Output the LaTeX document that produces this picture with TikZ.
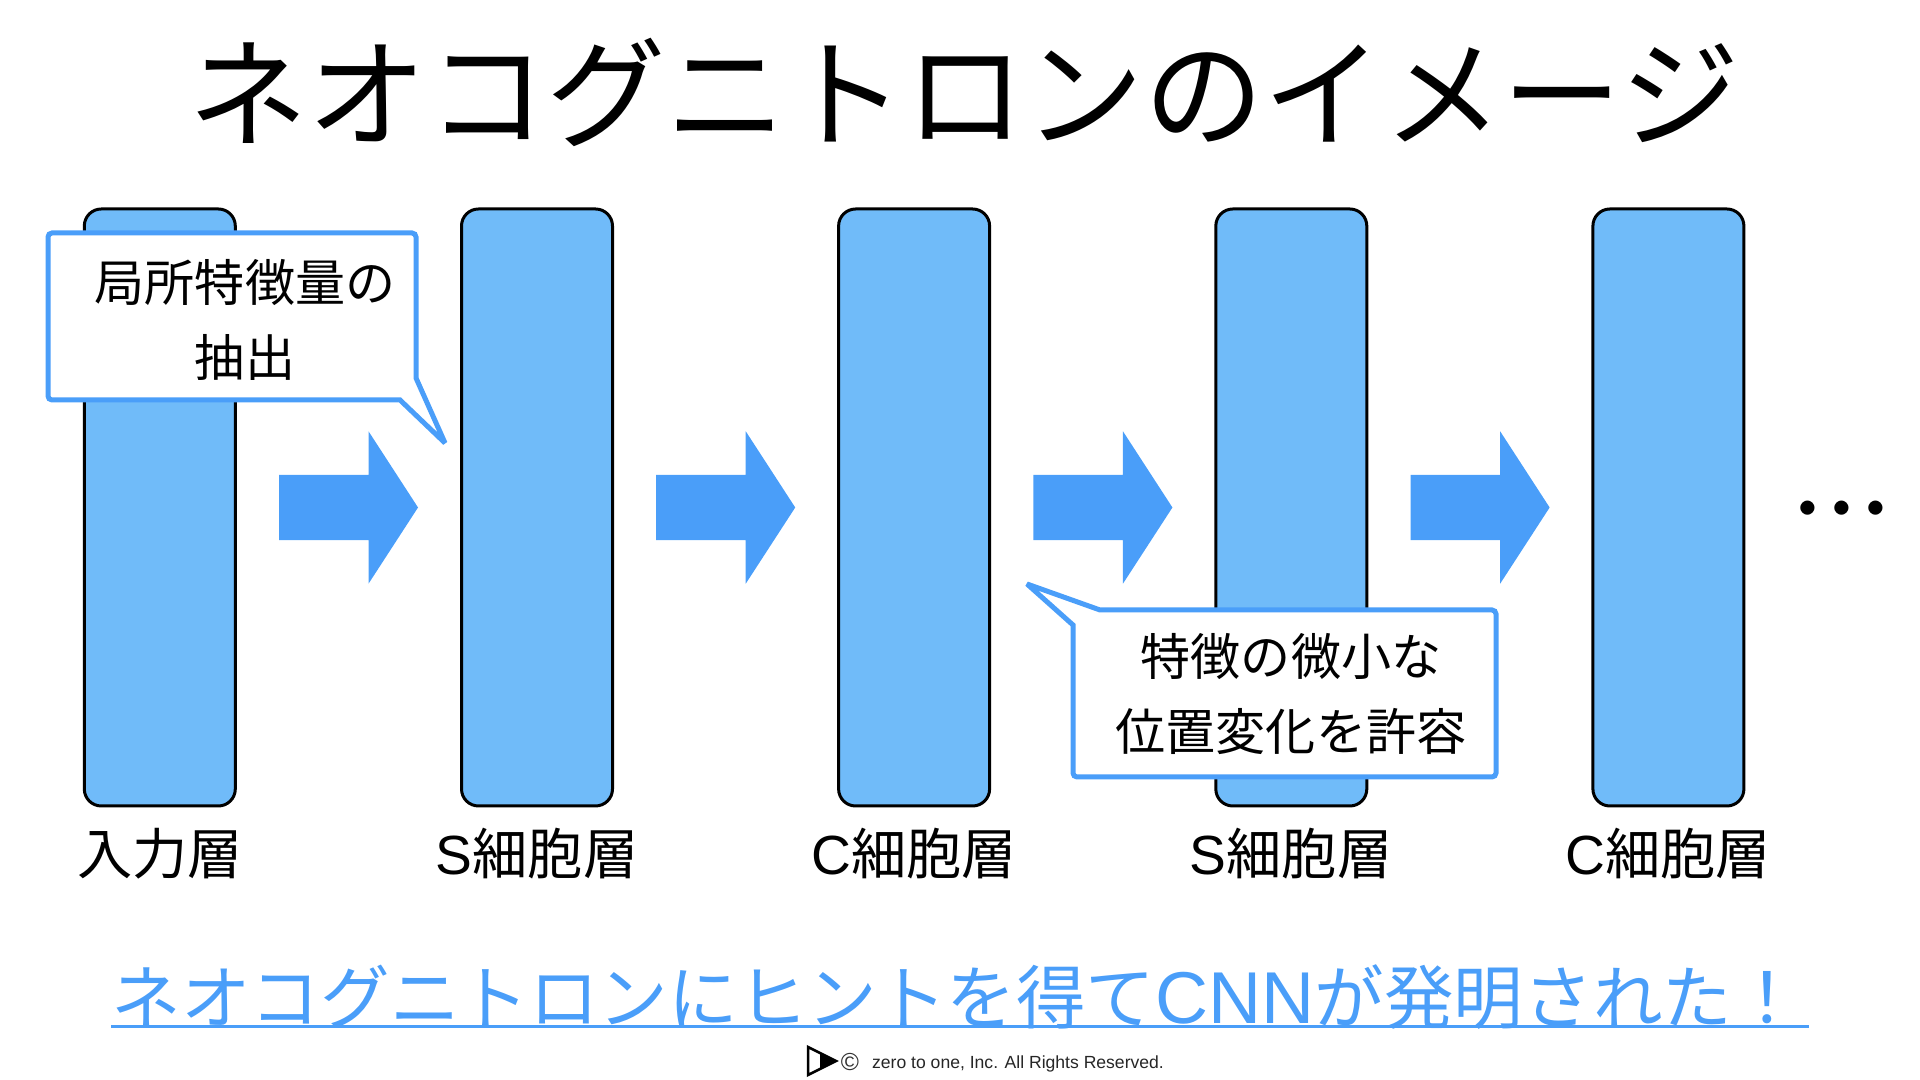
\documentclass[tikz,border=0pt]{standalone}
\usepackage{fontspec}
\setmainfont{Noto Sans CJK JP}
\newfontfamily\latinfont{Liberation Sans}
\usetikzlibrary{shapes.arrows}
\definecolor{barfill}{RGB}{112,187,249}
\definecolor{accentblue}{RGB}{74,158,249}

\begin{document}
\begin{tikzpicture}[every node/.style={align=center,inner sep=0pt},
    layerbar/.style={draw=black,line width=0.03cm,rounded corners=0.17cm,fill=barfill,minimum width=1.51cm,minimum height=5.97cm},
    blockarrow/.style={single arrow,fill=accentblue,inner xsep=0pt,inner ysep=0.32cm,minimum width=1.51cm,minimum height=1.39cm,single arrow head extend=0.435cm,single arrow tip angle=114},
    layerlabel/.style={font=\fontsize{15.7}{18}\selectfont},
    bubble/.style={draw=accentblue,line width=0.05cm,fill=white,line join=miter,miter limit=2},
    bubbletext/.style={font=\fontsize{14.25}{21.3}\selectfont}]
  \useasboundingbox (0,0) rectangle (19.2,10.8);
  \node[font=\fontsize{34}{36}\selectfont] (title) at (9.64,9.88) {ネオコグニトロンのイメージ};
  % layers and block arrows
  \foreach \i/\x in {1/1.598,2/5.37,3/9.141,4/12.913,5/16.684}
    \node[layerbar] (bar\i) at (\x,5.725) {};
  \foreach \i/\x in {1/3.379,2/7.151,3/10.923,4/14.695}
    \node[blockarrow] (arrow\i) at (\x,5.725) {};
  \node[layerlabel] (label1) at (1.6,2.26) {入力層};
  \node[layerlabel] (label2) at (5.37,2.26) {{\latinfont S}細胞層};
  \node[layerlabel] (label3) at (9.14,2.26) {{\latinfont C}細胞層};
  \node[layerlabel] (label4) at (12.91,2.26) {{\latinfont S}細胞層};
  \node[layerlabel] (label5) at (16.68,2.26) {{\latinfont C}細胞層};
  \node[font=\fontsize{19}{22}\selectfont] (more) at (18.42,5.63) {・\kern-0.33cm・\kern-0.33cm・};
  % speech bubbles
  \draw[bubble] (4.16,7.02) -- (4.45,6.37) -- (4.0,6.8) [rounded corners=0.04cm] -- (0.48,6.8) -- (0.48,8.47) -- (4.16,8.47) [sharp corners] -- cycle;
  \node[bubbletext] (bubble1) at (2.45,7.6) {局所特徴量の\\抽出};
  \draw[bubble] (11.0,4.7) -- (10.27,4.96) -- (10.73,4.55) [rounded corners=0.04cm] -- (10.73,3.03) -- (14.96,3.03) -- (14.96,4.7) [sharp corners] -- cycle;
  \node[bubbletext] (bubble2) at (12.91,3.86) {特徴の微小な\\位置変化を許容};
  % closing line
  \node[anchor=west,text=accentblue,font=\fontsize{19.8}{22}\selectfont] (lead) at (1.11,0.83) {ネオコグニトロンにヒントを得て{\latinfont\fontsize{20.9}{22}\selectfont CNN}が発明された！};
  \draw[accentblue,line width=0.03cm] (1.11,0.53) -- (18.09,0.53);
  % footer mark
  \draw[black,line width=0.025cm] (8.08,0.33) -- (8.08,0.05) -- (8.36,0.19) -- cycle;
  \fill[black] (8.2,0.27) -- (8.36,0.19) -- (8.2,0.11) -- cycle;
  \node[font=\latinfont\fontsize{7}{8}\selectfont,text=black!80] (copymark) at (8.5,0.18) {©};
  \node[font=\latinfont\fontsize{5}{6}\selectfont,text=black!85] (rights) at (10.18,0.165) {zero to one, Inc. All Rights Reserved.};
\end{tikzpicture}
\end{document}
